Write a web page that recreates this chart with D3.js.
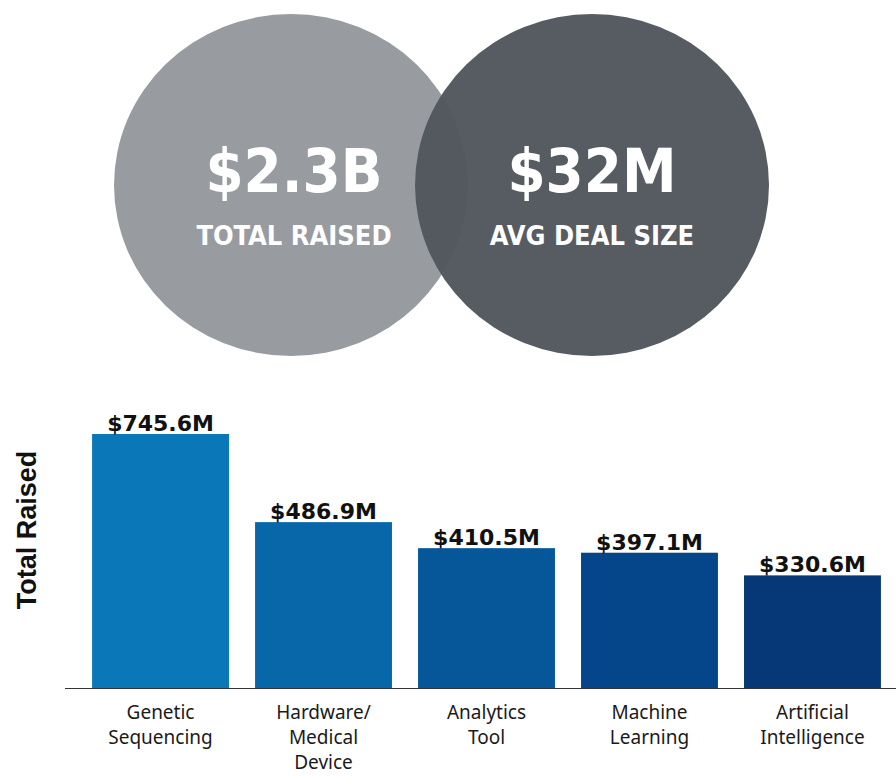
<!DOCTYPE html>
<html>
<head>
<meta charset="utf-8">
<script src="https://cdn.jsdelivr.net/npm/d3@7"></script>
<style>
  html, body { margin: 0; padding: 0; background: #ffffff; }
  svg { display: block; }
</style>
</head>
<body>
<svg id="chart" width="896" height="776"></svg>
<script>
// Headline figures shown in the two overlapping circles
const headlineValues = ["$2.3B", "$32M"];
const headlineLabels = ["TOTAL RAISED", "AVG DEAL SIZE"];
const headlineColors = ["#989b9f", "#52565d"];

// Funding by sector, in millions of dollars
const categories = [
  ["Genetic", "Sequencing"],
  ["Hardware/", "Medical", "Device"],
  ["Analytics", "Tool"],
  ["Machine", "Learning"],
  ["Artificial", "Intelligence"]
];
const totals = [745.6, 486.9, 410.5, 397.1, 330.6];
const barColors = ["#0a78b8", "#0867a9", "#06579a", "#05468a", "#063877"];

const svg = d3.select("#chart");

// ---- Circles ----
const circleCx = d3.scaleOrdinal().domain([0, 1]).range([291, 592]);
const textCx = d3.scaleOrdinal().domain([0, 1]).range([294, 592]);
const circles = svg.append("g");
circles.selectAll("ellipse")
  .data(headlineValues)
  .join("ellipse")
  .attr("cx", (d, i) => circleCx(i))
  .attr("cy", 185)
  .attr("rx", 177)
  .attr("ry", 171)
  .attr("fill", (d, i) => headlineColors[i])
  .attr("fill-opacity", (d, i) => i === 1 ? 0.97 : 1);

circles.selectAll("text.big")
  .data(headlineValues)
  .join("text")
  .attr("class", "big")
  .attr("x", (d, i) => textCx(i))
  .attr("y", 192)
  .attr("text-anchor", "middle")
  .attr("fill", "#ffffff")
  .style("font-family", "'DejaVu Sans', sans-serif")
  .style("font-stretch", "condensed")
  .style("font-weight", "bold")
  .style("font-size", "61px")
  .text(d => d);

circles.selectAll("text.small")
  .data(headlineLabels)
  .join("text")
  .attr("class", "small")
  .attr("x", (d, i) => textCx(i))
  .attr("y", 245)
  .attr("text-anchor", "middle")
  .attr("fill", "#ffffff")
  .style("font-family", "'DejaVu Sans', sans-serif")
  .style("font-stretch", "condensed")
  .style("font-weight", "bold")
  .style("font-size", "27px")
  .text(d => d);

// ---- Bar chart ----
const baseY = 688;
const x = d3.scaleBand()
  .domain(d3.range(totals.length))
  .range([66, 907])
  .paddingInner(0.16)
  .paddingOuter(0.16);

const y = d3.scaleLinear()
  .domain([0, 745.6])
  .range([baseY, 434]);

const chart = svg.append("g");

chart.selectAll("rect")
  .data(totals)
  .join("rect")
  .attr("x", (d, i) => x(i))
  .attr("y", d => y(d))
  .attr("width", x.bandwidth())
  .attr("height", d => baseY - y(d))
  .attr("fill", (d, i) => barColors[i]);

// baseline
chart.append("line")
  .attr("x1", 65).attr("x2", 896)
  .attr("y1", baseY + 0.5).attr("y2", baseY + 0.5)
  .attr("stroke", "#333")
  .attr("stroke-width", 1.2);

// value labels
chart.selectAll("text.value")
  .data(totals)
  .join("text")
  .attr("class", "value")
  .attr("x", (d, i) => x(i) + x.bandwidth() / 2)
  .attr("y", d => y(d) - 3)
  .attr("text-anchor", "middle")
  .attr("fill", "#111")
  .style("font-family", "'DejaVu Sans', sans-serif")
  .style("font-weight", "bold")
  .style("font-size", "22px")
  .text(d => "$" + d.toFixed(1) + "M");

// category labels
const catLabels = chart.selectAll("text.cat")
  .data(categories)
  .join("text")
  .attr("class", "cat")
  .attr("text-anchor", "middle")
  .attr("fill", "#1a1a1a")
  .style("font-family", "'Noto Sans', sans-serif")
  .style("font-size", "19px");

catLabels.selectAll("tspan")
  .data((d, i) => d.map(line => ({ line, i })))
  .join("tspan")
  .attr("x", d => x(d.i) + x.bandwidth() / 2)
  .attr("y", (d, j) => 719 + j * 25)
  .text(d => d.line);

// y-axis title
svg.append("text")
  .attr("transform", "translate(36,530) rotate(-90)")
  .attr("text-anchor", "middle")
  .attr("fill", "#111")
  .style("font-family", "'Liberation Sans', Arial, sans-serif")
  .style("font-weight", "bold")
  .style("font-size", "27px")
  .text("Total Raised");
</script>
</body>
</html>
